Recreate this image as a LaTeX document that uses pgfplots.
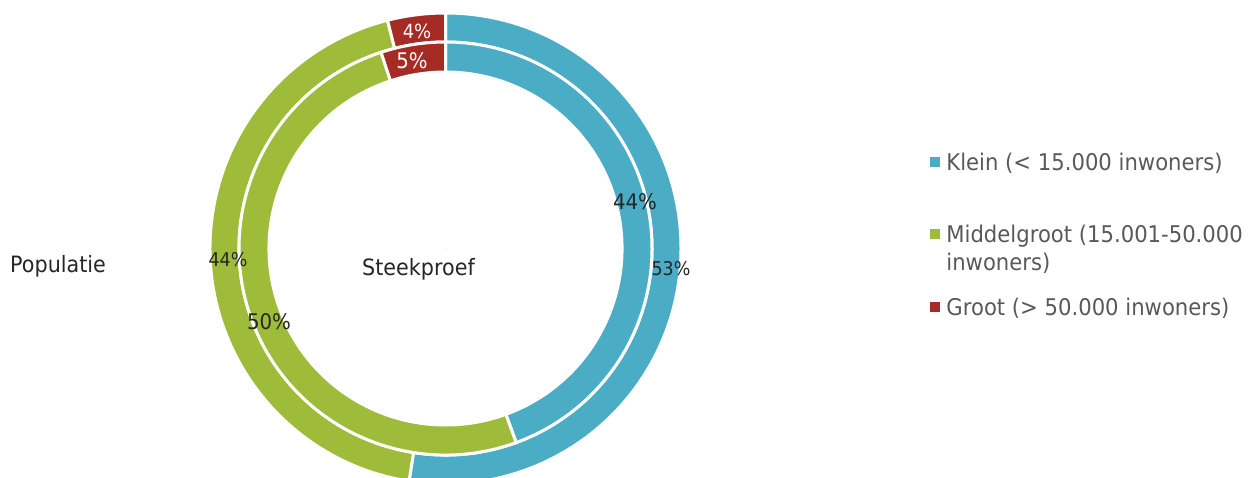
\documentclass[border=0pt]{standalone}
\usepackage{pgfplots}
\pgfplotsset{compat=1.18}
\usepackage{fontspec}
\setmainfont{DejaVu Sans}[FakeStretch=0.92]
\definecolor{klein}{HTML}{4BACC6}
\definecolor{midden}{HTML}{9FBB3A}
\definecolor{groot}{HTML}{A52B24}
\definecolor{labeltext}{HTML}{262626}
\definecolor{legendtext}{HTML}{595959}

\pgfplotsset{
  donut/.style={
    only marks, scatter, point meta=y,
    mark=*, mark size=0pt, mark options={draw=none, fill=none},
    visualization depends on={\thisrow{value}\as\segval},
    visualization depends on={\thisrow{start}\as\segstart},
    visualization depends on={\thisrow{total}\as\segtot},
    visualization depends on={\thisrow{rin}\as\rin},
    visualization depends on={\thisrow{rout}\as\rout},
    scatter/@pre marker code/.code={%
      \pgfmathsetmacro\aA{90-\segstart/\segtot*360}%
      \pgfmathsetmacro\aB{90-(\segstart+\segval)/\segtot*360}%
      \path[fill=#1, draw=white, line width=3pt]
        (\aA:\rout pt) arc[start angle=\aA, end angle=\aB, radius=\rout pt]
        -- (\aB:\rin pt) arc[start angle=\aB, end angle=\aA, radius=\rin pt] -- cycle;
    },
    scatter/@post marker code/.code={},
    legend image code/.code={\fill[#1] (0pt,4.5pt) rectangle (9pt,13.5pt);},
  },
  pctlabel/.style 2 args={
    forget plot, draw=none, mark=none, point meta=explicit,
    nodes near coords={\pgfmathprintnumber[assume math mode=true]{\pgfplotspointmeta}\%},
    nodes near coords style={anchor=center, inner sep=0pt, outer sep=0pt,
      font=\fontsize{#1}{#1}\selectfont, text=#2},
  },
}

\begin{document}
\begin{tikzpicture}
\begin{axis}[
  width=1252pt, height=477pt, scale only axis,
  xmin=0, xmax=1252, ymin=0, ymax=477, y dir=reverse,
  hide axis, clip=false,
  legend style={draw=none, fill=none, at={(axis cs:930,153.5)}, anchor=north west,
    inner sep=0pt, outer sep=0pt, row sep=0pt, column sep=7pt,
    font=\fontsize{23}{27}\selectfont, text=legendtext,
    nodes={inner sep=0pt, outer sep=0pt, text depth=, text height=},
    cells={anchor=base west}},
]
% ring: outer = Populatie (total 101), inner = Steekproef (total 99)
\addplot[donut=klein] table {
x y value start total rin rout
445.5 248.5 53 0 101 206.5 235.5
445.5 248.5 44 0 99 176.5 206.5
};
\addlegendentry{\rule[-54.5pt]{0pt}{20pt}Klein (< 15.000 inwoners)}
\addplot[donut=midden] table {
x y value start total rin rout
445.5 248.5 44 53 101 206.5 235.5
445.5 248.5 50 44 99 176.5 206.5
};
\addlegendentry{\rule[-10.5pt]{0pt}{20pt}Middelgroot (15.001-50.000}
\addlegendimage{empty legend}
\addlegendentry{\rule[-27.5pt]{0pt}{20pt}inwoners)}
\addplot[donut=groot] table {
x y value start total rin rout
445.5 248.5 4 97 101 206.5 235.5
445.5 248.5 5 94 99 176.5 206.5
};
\addlegendentry{\rule[-8pt]{0pt}{20pt}Groot (> 50.000 inwoners)}

% data labels
\addplot[pctlabel={19}{labeltext}] table[meta=v] {
x y v
671 269 53
228 260 44
};
\addplot[pctlabel={21.5}{labeltext}] table[meta=v] {
x y v
635 202 44
269 322 50
};
\addplot[pctlabel={19.5}{white}] table[meta=v] {
x y v
417 31 4
};
\addplot[pctlabel={21.5}{white}] table[meta=v] {
x y v
412 61 5
};

\node[anchor=base west, inner sep=0pt, text=labeltext, font=\fontsize{22.5}{27}\selectfont] at (axis cs:10,272) {Populatie};
\node[anchor=base west, inner sep=0pt, text=labeltext, font=\fontsize{22.5}{27}\selectfont] at (axis cs:362,275) {Steekproef};
\end{axis}
\pgfresetboundingbox
\path[use as bounding box] (current axis.south west) rectangle (current axis.north east);
\end{tikzpicture}
\end{document}
